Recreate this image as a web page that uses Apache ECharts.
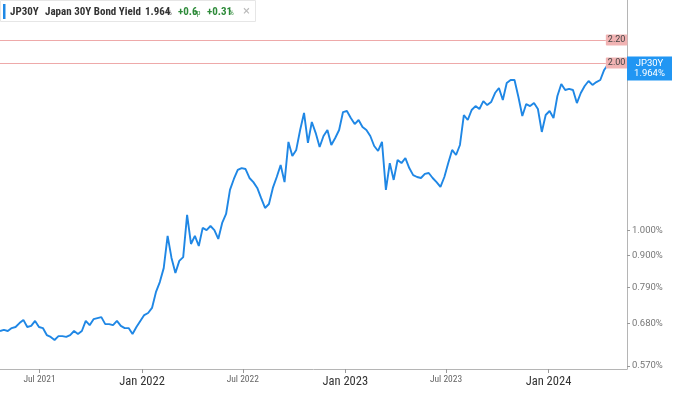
<!DOCTYPE html>
<html><head><meta charset="utf-8">
<script src="https://cdn.jsdelivr.net/npm/echarts@6/dist/echarts.min.js"></script>
<style>html,body{margin:0;padding:0;background:#fff}#c{width:680px;height:393px}</style>
</head><body><div id="c"></div>
<script>
// ---- data ----
const startDate = '2021-04-21';
const stepDays = 7;
const yields = [
  0.659,0.662,0.659,0.667,0.670,0.681,0.690,0.670,0.673,0.687,
  0.670,0.667,0.648,0.643,0.635,0.645,0.645,0.643,0.648,0.659,
  0.651,0.659,0.687,0.675,0.692,0.695,0.698,0.678,0.678,0.675,
  0.687,0.673,0.667,0.667,0.651,0.670,0.687,0.704,0.710,0.725,
  0.774,0.807,0.855,0.977,0.892,0.838,0.881,0.895,1.066,0.945,
  0.977,0.937,1.010,1.001,1.018,1.001,0.965,1.031,1.070,1.182,
  1.237,1.284,1.294,1.289,1.242,1.221,1.192,1.143,1.097,1.115,
  1.192,1.247,1.311,1.221,1.442,1.360,1.395,1.515,1.626,1.436,
  1.566,1.496,1.412,1.478,1.515,1.424,1.466,1.515,1.632,1.639,
  1.592,1.553,1.579,1.534,1.515,1.478,1.418,1.389,1.442,1.182,
  1.321,1.232,1.338,1.321,1.349,1.294,1.257,1.247,1.242,1.263,
  1.268,1.242,1.221,1.197,1.247,1.321,1.395,1.366,1.424,1.612,
  1.579,1.646,1.673,1.653,1.708,1.680,1.701,1.766,1.803,1.716,
  1.841,1.864,1.864,1.737,1.606,1.687,1.673,1.694,1.653,1.503,
  1.612,1.639,1.592,1.744,1.833,1.788,1.796,1.788,1.694,1.766,
  1.818,1.856,1.826,1.848,1.864,1.943,1.990,1.964
];
const xTickDates = ['2021-07-01','2022-01-01','2022-07-01','2023-01-01','2023-07-01','2024-01-01'];
const yTickValues = [0.57, 0.68, 0.79, 0.90, 1.00];
const refLevels = [2.20, 2.00];
const lastValue = 1.964;
const seriesName = 'JP30Y';
const xMin = '2021-04-21', xMax = '2024-05-21', refLineEnd = '2024-04-13';
const yMin = 0.563, yMax = 2.596;

// ---- build ----
function d(s){const p=s.split('-').map(Number);return new Date(p[0],p[1]-1,p[2]).getTime();}
const t0 = d(startDate);
const seriesData = yields.map((v,i)=>[t0 + i*stepDays*86400000, Math.log(v)]);
const FONT = 'Roboto, "Liberation Sans", sans-serif';
const NARROW = '"Liberation Sans Narrow", "Roboto Condensed", Roboto, sans-serif';
const MONTHS = ['Jan','Feb','Mar','Apr','May','Jun','Jul','Aug','Sep','Oct','Nov','Dec'];

const chart = echarts.init(document.getElementById('c'), null, {renderer:'canvas'});
const refLines = refLevels.map(v => [
  {coord:[d(xMin), Math.log(v)], lineStyle:{color:'#eea9a9', width:1, type:'solid'},
   label:{show:true, position:'end', distance:0, formatter: v.toFixed(2), backgroundColor:'#f1b3b3',
     color:'#444', fontSize:9, fontFamily:FONT, padding:[1,2,1,2], borderRadius:1}},
  {coord:[d(refLineEnd), Math.log(v)]}
]);
chart.setOption({
  animation:false,
  grid:{left:0, right:53, top:0, bottom:24, containLabel:false},
  xAxis:{
    type:'value', min:d(xMin), max:d(xMax),
    axisLine:{show:true, onZero:false, lineStyle:{color:'#b5b5b5', width:1}},
    axisTick:{show:true, customValues:xTickDates.map(d), length:4, lineStyle:{color:'#999'}},
    splitLine:{show:false},
    axisLabel:{
      customValues:xTickDates.map(d), margin:6,
      formatter:function(v){const dt=new Date(v);const m=dt.getMonth();const s=MONTHS[m]+' '+dt.getFullYear();return m===0?'{big|'+s+'}':'{small|'+s+'}';},
      rich:{big:{fontSize:12.5, color:'#333', fontFamily:NARROW}, small:{fontSize:9.5, color:'#666', fontFamily:NARROW}}
    }
  },
  yAxis:{
    type:'value', position:'right', min:Math.log(yMin), max:Math.log(yMax),
    axisLine:{show:true, onZero:false, lineStyle:{color:'#b5b5b5', width:1}},
    axisTick:{show:true, customValues:yTickValues.map(Math.log), length:3, lineStyle:{color:'#999'}},
    splitLine:{show:false},
    axisLabel:{customValues:yTickValues.map(Math.log), margin:5, color:'#777', fontSize:9.5, fontFamily:FONT,
      formatter:function(v){return Math.exp(v).toFixed(3)+'%';}}
  },
  series:[{
    name:seriesName, type:'line', data:seriesData, showSymbol:false, symbol:'none',
    lineStyle:{color:'#1f87e5', width:1.9}, itemStyle:{color:'#1f87e5'},
    markLine:{
      silent:true, symbol:'none', animation:false,
      data: refLines.concat([
        {yAxis:Math.log(lastValue), lineStyle:{color:'rgba(0,0,0,0)', width:1},
         label:{show:true, position:'end', distance:0,
           formatter:'{a|'+seriesName+'}\n{a|'+lastValue.toFixed(3)+'%}',
           backgroundColor:'#2196f3', padding:[2,5,2,5],
           rich:{a:{color:'#fff', fontSize:9.5, fontFamily:FONT, width:35, align:'center', lineHeight:10}}}}
      ])
    }
  }],
  graphic:[
    {type:'rect', shape:{x:0.5, y:0.5, width:255, height:21}, style:{fill:'#fff', stroke:'#e6e6e6'}, z:100},
    {type:'rect', shape:{x:3, y:4, width:2.5, height:15}, style:{fill:'#1e88e5'}, z:101},
    {type:'text', x:10, y:12, style:{text:'JP30Y', fill:'#333', font:'bold 11px '+NARROW, verticalAlign:'middle'}, z:101},
    {type:'text', x:45, y:12, style:{text:'Japan 30Y Bond Yield', fill:'#333', font:'bold 11px '+NARROW, verticalAlign:'middle'}, z:101},
    {type:'text', x:145, y:12, style:{text:'1.964', fill:'#333', font:'bold 11px '+NARROW, verticalAlign:'middle'}, z:101},
    {type:'text', x:167, y:13, style:{text:'%', fill:'#333', font:'7.5px '+NARROW, verticalAlign:'middle'}, z:101},
    {type:'text', x:178, y:12, style:{text:'+0.6', fill:'#2e8b3a', font:'bold 11px '+NARROW, verticalAlign:'middle'}, z:101},
    {type:'text', x:193, y:13, style:{text:'bp', fill:'#2e8b3a', font:'7.5px '+NARROW, verticalAlign:'middle'}, z:101},
    {type:'text', x:207, y:12, style:{text:'+0.31', fill:'#2e8b3a', font:'bold 11px '+NARROW, verticalAlign:'middle'}, z:101},
    {type:'text', x:229, y:13, style:{text:'%', fill:'#2e8b3a', font:'7.5px '+NARROW, verticalAlign:'middle'}, z:101},
    {type:'text', x:243, y:12, style:{text:'×', fill:'#bbb', font:'13px '+FONT, verticalAlign:'middle'}, z:101}
  ]
});
</script>
</body></html>
